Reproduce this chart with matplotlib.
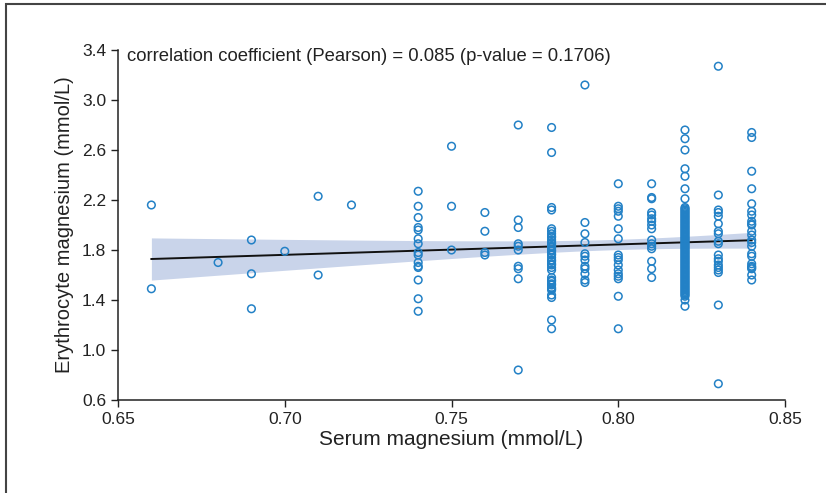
import matplotlib
matplotlib.use("Agg")
import matplotlib.pyplot as plt
import numpy as np

plt.rcParams["font.family"] = ["Liberation Sans", "DejaVu Sans"]

# serum magnesium levels (mmol/L) and erythrocyte values
serum_levels = [0.66, 0.68, 0.69, 0.70, 0.71, 0.72, 0.74, 0.75, 0.76, 0.77,
                0.78, 0.79, 0.80, 0.81, 0.82, 0.83, 0.84]

ery_066 = [2.16, 1.49]
ery_068 = [1.70]
ery_069 = [1.88, 1.61, 1.33]
ery_070 = [1.79]
ery_071 = [2.23, 1.60]
ery_072 = [2.16]
ery_074 = [2.27, 2.15, 2.06, 1.98, 1.96, 1.89, 1.85, 1.78, 1.76, 1.70, 1.67,
           1.66, 1.56, 1.41, 1.31]
ery_075 = [2.63, 2.15, 1.80]
ery_076 = [2.10, 1.95, 1.78, 1.76]
ery_077 = [2.80, 2.04, 1.98, 1.85, 1.83, 1.80, 1.67, 1.65, 1.57, 0.84]
ery_078 = [2.78, 2.58, 2.14, 2.12, 1.97, 1.95, 1.93, 1.91, 1.90, 1.88, 1.86,
           1.85, 1.83, 1.82, 1.80, 1.79, 1.77, 1.76, 1.74, 1.72, 1.71, 1.69,
           1.68, 1.66, 1.64, 1.58, 1.56, 1.55, 1.53, 1.52, 1.50, 1.49, 1.48,
           1.44, 1.42, 1.24, 1.17]
ery_079 = [3.12, 2.02, 1.93, 1.86, 1.77, 1.75, 1.72, 1.67, 1.65, 1.61, 1.56, 1.54]
ery_080 = [2.33, 2.15, 2.13, 2.11, 2.07, 1.97, 1.89, 1.76, 1.74, 1.72, 1.68,
           1.64, 1.61, 1.59, 1.57, 1.43, 1.17]
ery_081 = [2.33, 2.22, 2.21, 2.10, 2.08, 2.05, 2.03, 2.00, 1.97, 1.88, 1.85,
           1.83, 1.81, 1.71, 1.65, 1.58]
ery_082 = [2.76, 2.69, 2.60, 2.45, 2.39, 2.29, 2.21,
           2.14, 2.13, 2.12, 2.11, 2.10, 2.09, 2.08, 2.07, 2.06, 2.05, 2.04,
           2.03, 2.02, 2.01, 2.00, 1.99, 1.98, 1.97, 1.96, 1.95, 1.94, 1.93,
           1.92, 1.91, 1.90, 1.89, 1.88, 1.87, 1.86, 1.85, 1.84, 1.83, 1.82,
           1.81, 1.80, 1.79, 1.78, 1.77, 1.76, 1.75, 1.74, 1.73, 1.72, 1.71,
           1.70, 1.69, 1.68, 1.67, 1.66, 1.65, 1.64, 1.63, 1.62, 1.61, 1.60,
           1.59, 1.58, 1.57, 1.56, 1.55, 1.54, 1.53, 1.52, 1.51, 1.50, 1.49,
           1.48, 1.47, 1.46, 1.45, 1.44, 1.43, 1.40, 1.35]
ery_083 = [3.27, 2.24, 2.12, 2.10, 2.07, 2.01, 1.95, 1.93, 1.87, 1.85, 1.76,
           1.73, 1.71, 1.68, 1.66, 1.64, 1.62, 1.36, 0.73]
ery_084 = [2.74, 2.70, 2.43, 2.29, 2.17, 2.11, 2.08, 2.03, 2.01, 2.00, 1.95,
           1.92, 1.88, 1.86, 1.83, 1.77, 1.75, 1.69, 1.67, 1.66, 1.65, 1.60, 1.56]

columns = [ery_066, ery_068, ery_069, ery_070, ery_071, ery_072, ery_074,
           ery_075, ery_076, ery_077, ery_078, ery_079, ery_080, ery_081,
           ery_082, ery_083, ery_084]

x = np.concatenate([[s] * len(c) for s, c in zip(serum_levels, columns)])
y = np.concatenate(columns)

# linear fit with 95% confidence band
n = len(x)
slope, intercept = np.polyfit(x, y, 1)
xs = np.linspace(x.min(), x.max(), 100)
ys = intercept + slope * xs
resid = y - (intercept + slope * x)
s = np.sqrt(np.sum(resid ** 2) / (n - 2))
sxx = np.sum((x - x.mean()) ** 2)
half = 1.97 * s * np.sqrt(1 / n + (xs - x.mean()) ** 2 / sxx)

fig = plt.figure(figsize=(8.26, 4.93), dpi=100)
ax = fig.add_axes([0.1429, 0.1886, 0.8075, 0.71])

ax.fill_between(xs, ys - half, ys + half, color="#c9d4ea", lw=0, zorder=1)
ax.plot(xs, ys, color="#111111", lw=1.4, zorder=2)
ax.scatter(x, y, s=30, facecolors="none", edgecolors="#2381c6",
           linewidths=1.1, zorder=3)

ax.set_xlim(0.65, 0.85)
ax.set_ylim(0.6, 3.4)
ax.set_xticks([0.65, 0.70, 0.75, 0.80, 0.85])
ax.set_xticklabels(["0.65", "0.70", "0.75", "0.80", "0.85"])
ax.set_yticks([0.6, 1.0, 1.4, 1.8, 2.2, 2.6, 3.0, 3.4])
ax.set_yticklabels(["0.6", "1.0", "1.4", "1.8", "2.2", "2.6", "3.0", "3.4"])
ax.tick_params(labelsize=12.5, length=5, width=1, colors="#222222")
for side in ["top", "right"]:
    ax.spines[side].set_visible(False)
for side in ["left", "bottom"]:
    ax.spines[side].set_linewidth(1.1)
    ax.spines[side].set_color("#222222")

ax.set_xlabel("Serum magnesium (mmol/L)", fontsize=15, color="#222222", labelpad=2)
ax.set_ylabel("Erythrocyte magnesium (mmol/L)", fontsize=14.5, color="#222222", labelpad=6)

ax.text(0.0135, 0.98, "correlation coefficient (Pearson) = 0.085 (p-value = 0.1706)",
        transform=ax.transAxes, fontsize=13.3, va="center", ha="left", color="#222222")

# frame around the figure (top and left edges visible)
frame = plt.Rectangle((6 / 826, -0.05), 1.0, 1 - 4 / 493 + 0.05,
                      transform=fig.transFigure, fill=False,
                      edgecolor="#444444", lw=1.5)
fig.patches.append(frame)

fig.savefig("out.png", dpi=100)
